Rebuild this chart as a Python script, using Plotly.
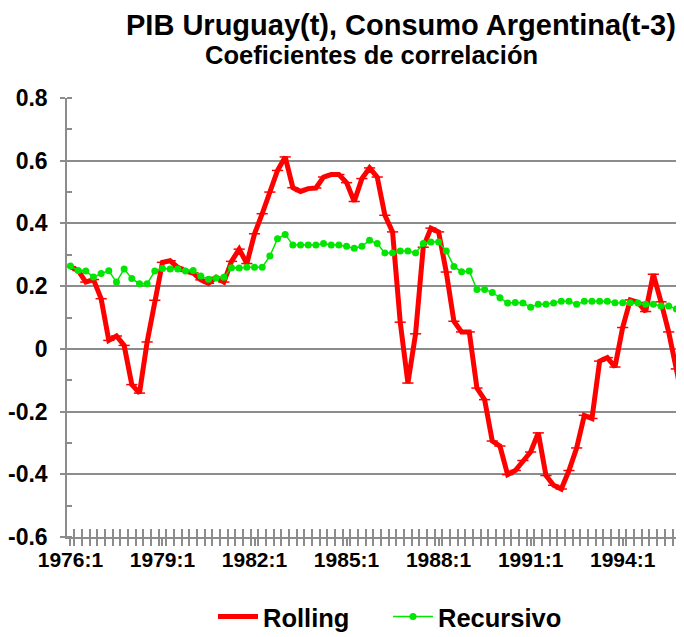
import plotly.graph_objects as go

years = list(range(1976, 1997))
quarters = [f"{y}:{q}" for y in years for q in range(1, 5)]

rolling = [0.262, 0.250, 0.213, 0.221, 0.160, 0.027, 0.041, 0.011, -0.114, -0.141,
           0.022, 0.155, 0.276, 0.281, 0.260, 0.248, 0.242, 0.220, 0.209, 0.228,
           0.213, 0.279, 0.318, 0.272, 0.367, 0.431, 0.500, 0.569, 0.612, 0.514,
           0.502, 0.511, 0.513, 0.548, 0.556, 0.556, 0.530, 0.470, 0.543, 0.577,
           0.548, 0.426, 0.373, 0.085, -0.109, 0.048, 0.324, 0.385, 0.373, 0.245,
           0.088, 0.054, 0.054, -0.125, -0.162, -0.294, -0.310, -0.401, -0.388, -0.356,
           -0.329, -0.268, -0.404, -0.435, -0.447, -0.388, -0.316, -0.212, -0.222, -0.039,
           -0.028, -0.058, 0.068, 0.156, 0.148, 0.119, 0.238, 0.150, 0.054, -0.064,
           -0.186]

recursivo = [0.264, 0.250, 0.248, 0.229, 0.240, 0.249, 0.213, 0.255, 0.224, 0.208,
             0.208, 0.248, 0.256, 0.255, 0.255, 0.248, 0.250, 0.232, 0.222, 0.226,
             0.228, 0.259, 0.258, 0.260, 0.260, 0.260, 0.296, 0.351, 0.365, 0.331,
             0.331, 0.331, 0.331, 0.336, 0.331, 0.331, 0.327, 0.321, 0.327, 0.346,
             0.336, 0.306, 0.306, 0.312, 0.312, 0.306, 0.336, 0.341, 0.341, 0.312,
             0.263, 0.246, 0.248, 0.189, 0.189, 0.180, 0.163, 0.146, 0.148, 0.146,
             0.133, 0.142, 0.142, 0.146, 0.152, 0.152, 0.142, 0.152, 0.152, 0.152,
             0.152, 0.147, 0.147, 0.147, 0.146, 0.142, 0.142, 0.137, 0.137, 0.127,
             0.116]

x_labels = ["1976:1", "1979:1", "1982:1", "1985:1", "1988:1", "1991:1", "1994:1"]
y_vals = [-0.6, -0.4, -0.2, 0, 0.2, 0.4, 0.6, 0.8]
y_text = ["-0.6", "-0.4", "-0.2", "0", "0.2", "0.4", "0.6", "0.8"]

n = len(rolling)
xi = list(range(n))
tickpos = [quarters.index(l) for l in x_labels]

FONT = "Liberation Sans, Arial, sans-serif"
GRID = "#8c8c8c"
XRANGE = [-0.45, 80.0]

# page has an 8px body margin; figure coordinates are page - 8
W, H = 676, 633
L, T = 59, 90
PH = 439
B = H - T - PH
PW = W - L

fig = go.Figure()
fig.add_trace(go.Scatter(
    x=xi, y=rolling, name="Rolling", mode="lines+markers",
    line=dict(color="#ff0000", width=5),
    marker=dict(symbol="line-ew", size=8, line=dict(color="#ff0000", width=1.5), color="#ff0000"),
))
fig.add_trace(go.Scatter(
    x=xi, y=recursivo, name="Recursivo", mode="lines+markers",
    line=dict(color="#00e600", width=1.5),
    marker=dict(symbol="circle", size=7, color="#00e600"),
))
# helper trace for the overlay axis (inside half of the crossing ticks)
fig.add_trace(go.Scatter(x=[None], y=[None], xaxis="x2", showlegend=False, hoverinfo="skip"))

fig.update_layout(
    width=W, height=H,
    margin=dict(l=L, r=0, t=T, b=B, pad=0),
    paper_bgcolor="white", plot_bgcolor="white",
    font=dict(family=FONT, color="black", size=22, weight="bold"),
    showlegend=True,
    legend=dict(orientation="h", x=(205 - L) / PW, xanchor="left",
                y=-(609 - (T + PH)) / PH, yanchor="middle",
                font=dict(size=25.5, family=FONT, weight="bold"), itemwidth=40,
                entrywidth=120, entrywidthmode="pixels",
                traceorder="normal", bgcolor="rgba(0,0,0,0)"),
    annotations=[
        dict(text="PIB Uruguay(t), Consumo Argentina(t-3)", xref="paper", yref="paper",
             x=(393 - L) / PW, y=1 + (T - 17) / PH, xanchor="center", yanchor="middle",
             showarrow=False, font=dict(size=29, family=FONT, weight="bold")),
        dict(text="Coeficientes de correlación", xref="paper", yref="paper",
             x=(363 - L) / PW, y=1 + (T - 47) / PH, xanchor="center", yanchor="middle",
             showarrow=False, font=dict(size=25.5, family=FONT, weight="bold")),
    ],
    xaxis2=dict(overlaying="x", anchor="y", side="bottom", range=XRANGE, automargin=False,
                showgrid=False, zeroline=False, showline=False, showticklabels=False,
                tickmode="linear", tick0=-0.5, dtick=1, ticks="inside", ticklen=8,
                tickcolor=GRID, tickwidth=1.5),
)

fig.layout.xaxis.update(
    range=XRANGE, showgrid=False, zeroline=False, automargin=False,
    showline=True, linecolor=GRID, linewidth=1.5,
    tickmode="array", tickvals=tickpos, ticktext=x_labels,
    ticks="outside", ticklen=7, tickcolor=GRID, tickwidth=1.5, ticklabelstandoff=-4,
    tickfont=dict(size=21, family=FONT, weight="bold"),
    minor=dict(tickmode="linear", tick0=-0.5, dtick=1, ticks="outside", ticklen=7,
               tickcolor=GRID, tickwidth=1.5, showgrid=False),
)
fig.update_yaxes(
    range=[-0.6, 0.8], showgrid=True, gridcolor=GRID, gridwidth=1.5,
    zeroline=False, showline=True, linecolor=GRID, linewidth=1.5, automargin=False,
    tickmode="array", tickvals=y_vals, ticktext=y_text,
    ticks="outside", ticklen=5, tickcolor=GRID, tickwidth=1.5, ticklabelstandoff=8,
    tickfont=dict(size=23, family=FONT, weight="bold"),
    minor=dict(tickmode="linear", tick0=-0.6, dtick=0.1, ticks="inside", ticklen=5,
               tickcolor=GRID, tickwidth=1.5, showgrid=False),
)

fig.write_html("out.html")
